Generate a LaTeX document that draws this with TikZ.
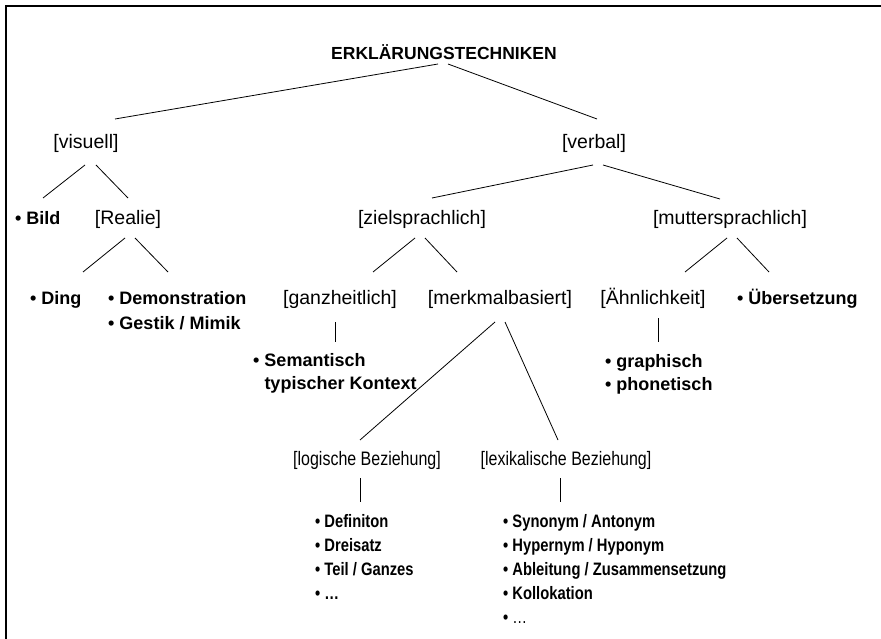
\documentclass[tikz,border=0pt]{standalone}
\usepackage{fontspec}
\setmainfont{Liberation Sans}
\newfontfamily\narrowfont{Liberation Sans}[FakeStretch=0.82]
\usepackage{tikz}
\usetikzlibrary{positioning}

\tikzset{
  lab/.style={font=\fontsize{19.5}{23}\selectfont, inner sep=0pt, anchor=base},
  nlab/.style={lab, font=\narrowfont\fontsize{19.5}{23}\selectfont},
  bul/.style={font=\bfseries\fontsize{18}{22}\selectfont, inner sep=0pt, anchor=base west},
  nbul/.style={bul, font=\narrowfont\bfseries\fontsize{18}{22}\selectfont},
  conn/.style={line width=0.8pt}
}

\begin{document}
\begin{tikzpicture}[x=1pt,y=-1pt]
\useasboundingbox (0,0) rectangle (881,639);
\draw[line width=1.4pt] (881,6) -- (6,6) -- (6,639);

% top levels
\node[lab,font=\bfseries\fontsize{17.5}{21}\selectfont] (title) at (444,60) {ERKLÄRUNGSTECHNIKEN};
\node[lab] (visuell) at (86,149) {[visuell]};
\node[lab] (verbal) at (594,149) {[verbal]};

\node[bul] (bild) at (15,225) {• Bild};
\node[lab] (realie) at (128,225) {[Realie]};
\node[lab] (ziel) at (422,225) {[zielsprachlich]};
\node[lab] (mutter) at (730,225) {[muttersprachlich]};

\node[bul] (ding) at (30,305) {• Ding};
\node[bul] (demo) at (108,305) {• Demonstration};
\node[bul] (gestik) at (108,329) {• Gestik / Mimik};
\node[lab] (ganz) at (340,305) {[ganzheitlich]};
\node[lab] (merkmal) at (500,305) {[merkmalbasiert]};
\node[lab] (aehnl) at (653,305) {[Ähnlichkeit]};
\node[bul] (uebers) at (737,305) {• Übersetzung};

\node[bul] (sem) at (253,366) {• Semantisch};
\node[bul] (semb) at (253,389) {\phantom{• }typischer Kontext};
\node[bul] (graph) at (605,367) {• graphisch};
\node[bul] (phon) at (605,390) {• phonetisch};

\node[nlab] (logisch) at (367,465) {[logische Beziehung]};
\node[nlab] (lexikal) at (566,465) {[lexikalische Beziehung]};

% lists
\foreach \txt [count=\i] in {Definiton, Dreisatz, {Teil / Ganzes}, \ldots}
  \node[nbul] (logitem\i) at (315,503+24*\i) {• \txt};
\foreach \txt [count=\i] in {{Synonym / Antonym}, {Hypernym / Hyponym}, {Ableitung / Zusammensetzung}, Kollokation, {\mdseries\ldots}}
  \node[nbul] (lexitem\i) at (503,503+24*\i) {• \txt};

% connectors
\draw[conn] ([xshift=-6pt,yshift=-4pt]title.base) -- ([xshift=29pt,yshift=30pt]visuell.base);
\draw[conn] ([xshift=4pt,yshift=-4pt]title.base) -- ([xshift=3pt,yshift=30pt]verbal.base);
\draw[conn] ([xshift=-1pt,yshift=-16pt]visuell.base) -- ([xshift=28pt,yshift=27pt]bild.base west);
\draw[conn] ([xshift=10pt,yshift=-16pt]visuell.base) -- ([yshift=27pt]realie.base);
\draw[conn] ([xshift=-3pt,yshift=-13pt]realie.base) -- ([xshift=53pt,yshift=33pt]ding.base west);
\draw[conn] ([xshift=7pt,yshift=-13pt]realie.base) -- ([xshift=60pt,yshift=33pt]demo.base west);
\draw[conn] ([xshift=-1pt,yshift=-16pt]verbal.base) -- ([xshift=10pt,yshift=27pt]ziel.base);
\draw[conn] ([xshift=9pt,yshift=-16pt]verbal.base) -- ([xshift=-10pt,yshift=26pt]mutter.base);
\draw[conn] ([xshift=-7pt,yshift=-13pt]ziel.base) -- ([xshift=33pt,yshift=33pt]ganz.base);
\draw[conn] ([xshift=3pt,yshift=-13pt]ziel.base) -- ([xshift=-43pt,yshift=33pt]merkmal.base);
\draw[conn] ([xshift=-3pt,yshift=-13pt]mutter.base) -- ([xshift=32pt,yshift=33pt]aehnl.base);
\draw[conn] ([xshift=7pt,yshift=-13pt]mutter.base) -- ([xshift=32pt,yshift=33pt]uebers.base west);
\draw[conn] ([xshift=-5pt,yshift=-17pt]ganz.base) -- ([xshift=82pt,yshift=24pt]sem.base west);
\draw[conn] ([xshift=5pt,yshift=-13pt]aehnl.base) -- ([xshift=53pt,yshift=25pt]graph.base west);
\draw[conn] ([xshift=-5pt,yshift=-17pt]merkmal.base) -- ([xshift=-7pt,yshift=25pt]logisch.base);
\draw[conn] ([xshift=5pt,yshift=-17pt]merkmal.base) -- ([xshift=-8pt,yshift=25pt]lexikal.base);
\draw[conn] ([xshift=-7pt,yshift=-13pt]logisch.base) -- ([xshift=45pt,yshift=25pt]logitem1.base west);
\draw[conn] ([xshift=-6pt,yshift=-13pt]lexikal.base) -- ([xshift=57pt,yshift=25pt]lexitem1.base west);
\end{tikzpicture}
\end{document}
